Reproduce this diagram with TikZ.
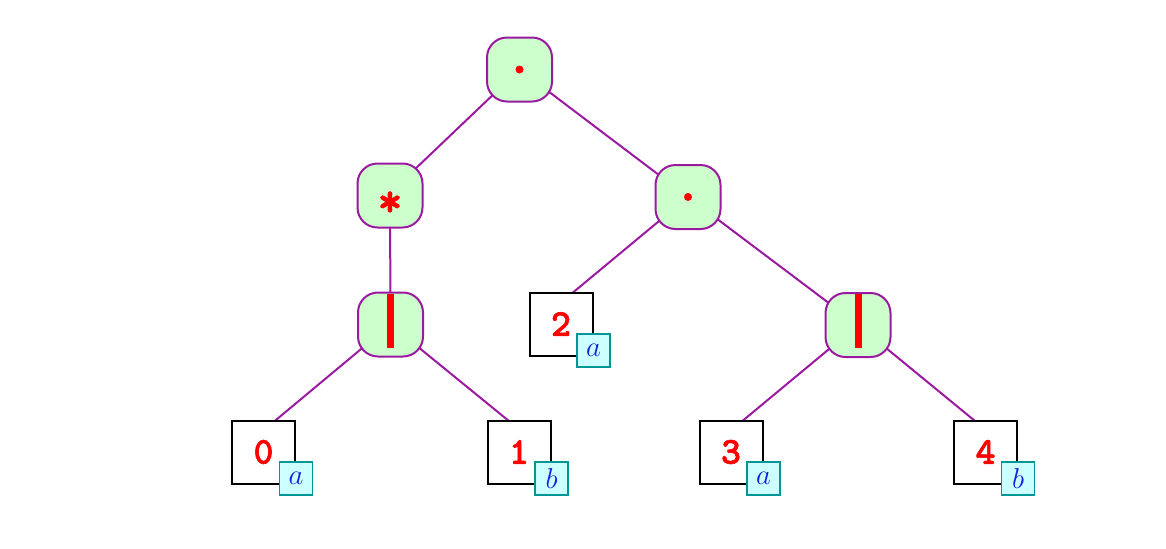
\documentclass[tikz,border=0pt]{standalone}
\usepackage{fontspec}
\newfontfamily\digfont{lmmonolt10-bold.otf}[FakeBold=1.6]
\usetikzlibrary{backgrounds,calc}
\definecolor{nodefill}{RGB}{204,255,204}
\definecolor{edgecol}{RGB}{155,25,160}
\definecolor{labfill}{RGB}{204,255,255}
\definecolor{labdraw}{RGB}{0,150,150}
\definecolor{labtext}{RGB}{20,30,220}
\tikzset{
  opnode/.style={draw=edgecol, line width=1pt, fill=nodefill, rounded corners=10pt,
    minimum width=32.5pt, minimum height=32pt, inner sep=0pt, text=red,
    font=\fontsize{19}{22}\digfont},
  leafbox/.style={draw=black, line width=1pt, fill=white, minimum size=31.5pt,
    inner sep=0pt, text=red, font=\fontsize{19}{22}\digfont},
  labbox/.style={draw=labdraw, line width=0.9pt, fill=labfill, minimum size=16.5pt,
    inner sep=0pt, text=labtext, font=\fontsize{14}{16}\selectfont},
  edge/.style={draw=edgecol, line width=1pt},
}
\begin{document}
\begin{tikzpicture}[x=0.5pt,y=-0.5pt]
\useasboundingbox (0,0) rectangle (1166,548);
% operator nodes
\node[opnode] (root) at (519.5,69.5) {};
\node[opnode] (star) at (390,195.5) {\smash{\raisebox{-0.55em}{\scalebox{1.25}{*}}}};
\node[opnode] (dot) at (688,197) {};
\node[opnode] (bar) at (390.5,324.5) {};
\node[opnode] (barr) at (858,325) {};
% leaves
\node[leafbox] (l0) at (263.5,452) {0};
\node[leafbox] (l1) at (519,452) {1};
\node[leafbox] (l2) at (561,324) {2};
\node[leafbox] (l3) at (731,452) {3};
\node[leafbox] (l4) at (985.5,452) {4};
% labels
\node[labbox] (a0) at ($(l0.south east)+(0,-6)$) {$a$};
\node[labbox] (b1) at ($(l1.south east)+(0,-6)$) {$b$};
\node[labbox] (a2) at ($(l2.south east)+(0,-6)$) {$a$};
\node[labbox] (a3) at ($(l3.south east)+(0,-6)$) {$a$};
\node[labbox] (b4) at ($(l4.south east)+(0,-6)$) {$b$};
% operator symbols
\fill[red] (root) circle (2pt);
\fill[red] (dot) circle (2pt);
\fill[red] ($(bar)+(-3.5,-31)$) rectangle ($(bar)+(3.5,23)$);
\fill[red] ($(barr)+(-3.5,-31)$) rectangle ($(barr)+(3.5,23)$);
% edges
\begin{scope}[on background layer]
\draw[edge] (root.center) -- ($(star.center)!0.08!(star.west)$);
\draw[edge] (root.center) -- (dot.center);
\draw[edge] (star.center) -- (bar.center);
\draw[edge] (dot.center) -- ($(l2.west)!0.1!(l2.east)$);
\draw[edge] (dot.center) -- (barr.center);
\draw[edge] (bar.center) -- ($(l0.west)!0.1!(l0.east)$);
\draw[edge] (bar.center) -- ($(l1.west)!0.93!(l1.east)$);
\draw[edge] (barr.center) -- ($(l3.west)!0.1!(l3.east)$);
\draw[edge] (barr.center) -- ($(l4.west)!0.92!(l4.east)$);
\end{scope}
\end{tikzpicture}
\end{document}
